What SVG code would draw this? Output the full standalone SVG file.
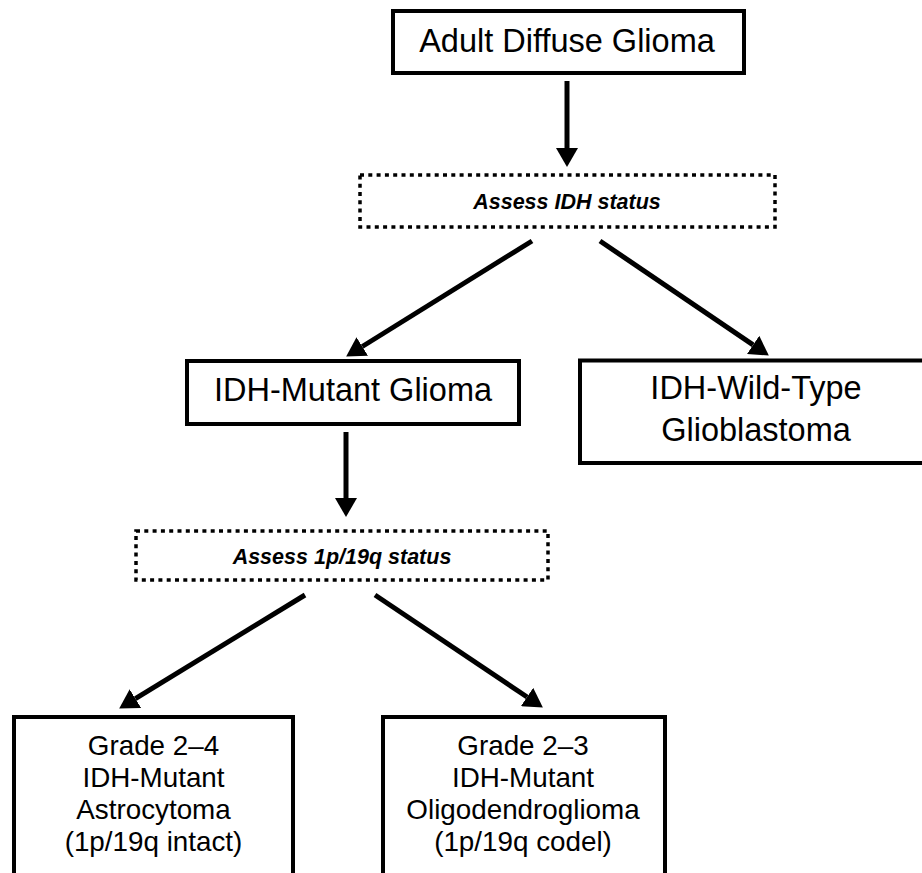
<svg xmlns="http://www.w3.org/2000/svg" width="922" height="873" viewBox="0 0 922 873">
<defs>
<style>
.box{fill:#fff;stroke:#000;stroke-width:4}
.dbox{fill:#fff;stroke:#000;stroke-width:3.5;stroke-dasharray:4 4.3}
.big{font-family:"Liberation Sans",Arial,sans-serif;font-size:32.5px;text-anchor:middle;fill:#000}
.mid{font-family:"Liberation Sans",Arial,sans-serif;font-size:27.8px;text-anchor:middle;fill:#000}
.q{font-family:"Liberation Sans",Arial,sans-serif;font-size:21.5px;font-weight:bold;font-style:italic;text-anchor:middle;fill:#000}
.arr{stroke:#000;stroke-width:5;fill:none;marker-end:url(#ah)}
</style>
<marker id="ah" markerUnits="userSpaceOnUse" markerWidth="19" markerHeight="22" viewBox="0 0 19 22" refX="0" refY="11" orient="auto">
<path d="M0,0 L19,11 L0,22 Z" fill="#000"/>
</marker>
</defs>
<rect width="922" height="873" fill="#fff"/>
<g id="connectors">
<line class="arr" x1="567" y1="81" x2="567" y2="148"/>
<line class="arr" x1="532" y1="241" x2="362.3" y2="346.5"/>
<line class="arr" x1="600" y1="241" x2="753.1" y2="344.9"/>
<line class="arr" x1="346" y1="432" x2="346" y2="498"/>
<line class="arr" x1="305" y1="595" x2="135.4" y2="698.6"/>
<line class="arr" x1="375" y1="595" x2="527.1" y2="697"/>
</g>
<g id="adult">
<rect class="box" x="393" y="11" width="351" height="62"/>
<text class="big" x="567" y="52">Adult Diffuse Glioma</text>
</g>
<g id="assess-idh">
<rect class="dbox" x="360" y="175" width="415" height="52"/>
<text class="q" x="567" y="209">Assess IDH status</text>
</g>
<g id="idh-mutant">
<rect class="box" x="187" y="361" width="332" height="63"/>
<text class="big" x="353" y="401">IDH-Mutant Glioma</text>
</g>
<g id="idh-wildtype">
<rect class="box" x="580" y="360.5" width="350" height="102.5"/>
<text class="big" x="756" y="399">IDH-Wild-Type</text>
<text class="big" x="756" y="441">Glioblastoma</text>
</g>
<g id="assess-1p19q">
<rect class="dbox" x="136" y="531" width="412" height="49"/>
<text class="q" x="342" y="564">Assess 1p/19q status</text>
</g>
<g id="astrocytoma">
<rect class="box" x="14" y="717" width="279" height="170"/>
<text class="mid" x="153.5" y="755">Grade 2–4</text>
<text class="mid" x="153.5" y="787">IDH-Mutant</text>
<text class="mid" x="153.5" y="819">Astrocytoma</text>
<text class="mid" x="153.5" y="851">(1p/19q intact)</text>
</g>
<g id="oligodendroglioma">
<rect class="box" x="383" y="717" width="282" height="170"/>
<text class="mid" x="523" y="755">Grade 2–3</text>
<text class="mid" x="523" y="787">IDH-Mutant</text>
<text class="mid" x="523" y="819">Oligodendroglioma</text>
<text class="mid" x="523" y="851">(1p/19q codel)</text>
</g>
</svg>
